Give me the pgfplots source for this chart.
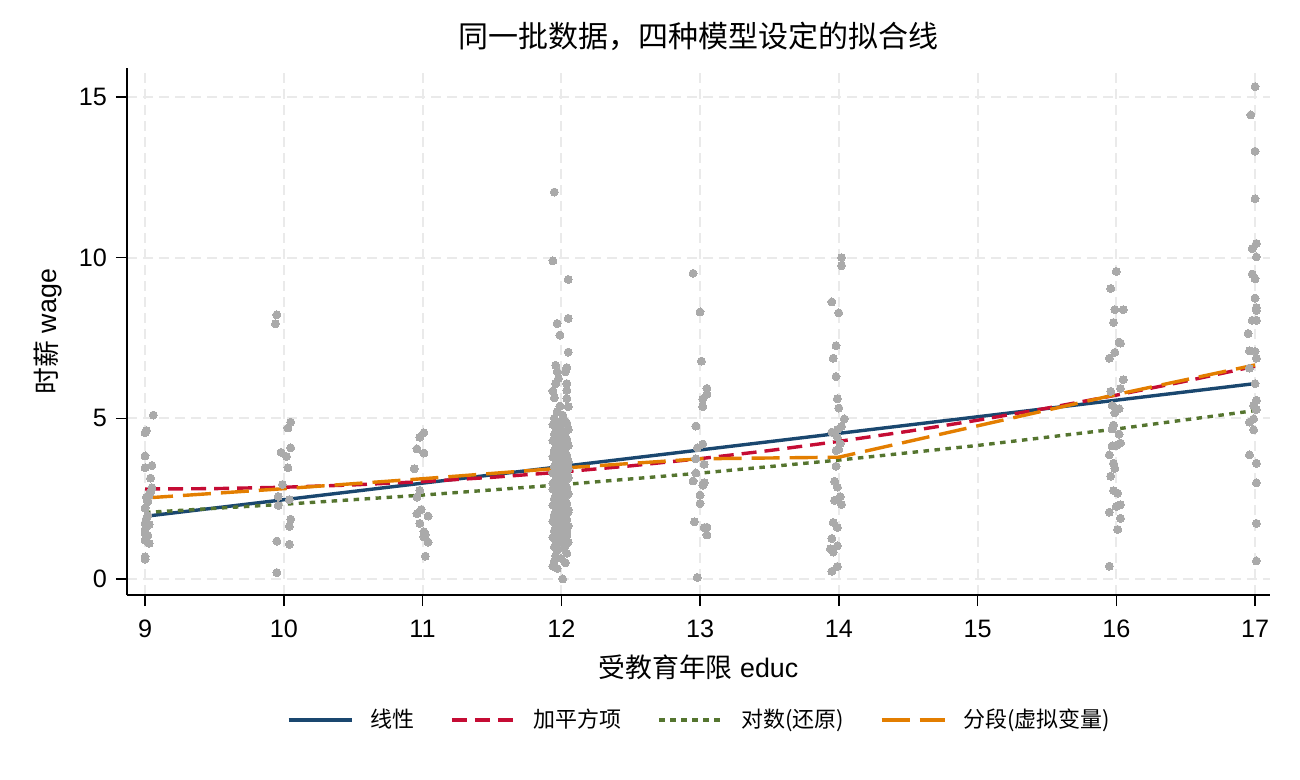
\documentclass[border=0pt]{standalone}
\usepackage{fontspec}
\setmainfont{Liberation Sans}
\newfontfamily\cjk{Noto Sans CJK SC}
\usepackage{pgfplots}
\pgfplotsset{compat=1.18}
\definecolor{snavy}{RGB}{26,71,111}
\definecolor{scran}{RGB}{197,12,52}
\definecolor{sgreen}{RGB}{85,117,47}
\definecolor{sorange}{RGB}{227,126,0}
\definecolor{dotgray}{RGB}{170,170,170}
\definecolor{gridgray}{RGB}{234,234,234}
\pgfplotstableread{
x y
9.06 5.10
9.01 4.62
9.00 4.55
9.00 3.83
9.00 3.46
9.05 3.53
9.04 3.14
9.05 2.84
9.04 2.71
9.01 2.55
9.03 2.60
9.02 2.40
9.00 2.21
9.02 1.98
9.01 1.88
9.00 1.73
9.03 1.70
9.00 1.54
9.00 1.42
9.02 1.36
9.00 1.21
9.03 1.11
9.00 0.69
9.00 0.62
10.05 4.88
10.03 4.70
9.98 3.94
10.02 3.81
10.05 4.08
10.03 3.46
9.99 2.94
9.96 2.57
10.04 2.47
9.96 2.29
10.05 1.86
10.04 1.64
9.95 1.18
10.04 1.08
9.95 0.20
9.95 8.22
9.94 7.94
11.01 4.55
10.98 4.41
10.96 4.05
11.01 3.92
10.94 3.43
10.98 2.76
10.96 2.55
10.99 2.16
10.96 2.03
11.04 1.96
10.98 1.73
11.01 1.47
11.02 1.39
11.01 1.31
11.04 1.15
11.02 0.71
11.95 12.04
11.94 9.90
12.05 9.32
12.05 8.11
11.97 7.95
11.99 7.59
12.05 7.06
11.96 6.65
12.04 6.58
11.97 6.45
12.03 6.45
11.98 6.24
11.96 6.08
12.04 6.08
12.04 5.87
11.94 5.85
11.95 5.64
12.04 5.62
12.05 5.36
11.99 5.38
11.97 5.21
12.01 5.10
11.95 5.00
12.02 4.95
11.97 4.90
12.04 4.85
11.94 4.80
12.00 4.75
11.96 4.70
12.05 4.65
11.98 4.60
12.03 4.55
11.95 4.50
12.02 4.45
11.97 4.40
12.04 4.35
11.94 4.30
12.00 4.25
11.96 4.20
12.05 4.15
11.98 4.10
12.03 4.05
11.95 4.00
12.02 3.95
11.97 3.90
12.04 3.85
11.94 3.80
12.00 3.75
11.96 3.70
12.05 3.65
11.98 3.60
12.03 3.55
11.95 3.50
12.02 3.45
11.97 3.40
12.04 3.35
11.94 3.30
12.00 3.25
11.96 3.20
12.05 3.15
11.98 3.10
12.03 3.05
11.95 3.00
12.02 2.95
11.97 2.90
12.04 2.85
11.94 2.80
12.00 2.75
11.96 2.70
12.05 2.65
11.98 2.60
12.03 2.55
11.95 2.50
12.02 2.45
11.97 2.40
12.04 2.35
11.94 2.30
12.00 2.25
11.96 2.20
12.05 2.15
11.98 2.10
12.03 2.05
11.95 2.00
12.02 1.95
11.97 1.90
12.04 1.85
11.94 1.80
12.00 1.75
11.96 1.70
12.05 1.65
11.98 1.60
12.03 1.55
11.95 1.50
12.02 1.45
11.97 1.40
12.04 1.35
11.94 1.30
12.00 1.25
11.96 1.20
12.05 1.15
11.98 1.10
12.03 1.05
11.95 1.00
12.02 0.95
11.97 0.90
12.01 4.48
11.96 4.33
12.04 4.18
11.99 4.03
11.95 3.88
12.03 3.73
11.98 3.58
12.05 3.43
11.97 3.28
12.01 3.13
11.94 2.98
12.04 2.83
11.99 2.68
11.96 2.53
12.03 2.38
11.98 2.23
12.05 2.08
11.95 1.93
12.01 1.78
11.97 1.63
12.04 1.48
11.99 1.33
11.96 1.18
12.04 0.80
11.96 0.72
12.00 0.64
11.95 0.56
12.03 0.50
11.94 0.40
11.97 0.33
12.01 0.00
12.95 9.51
13.00 8.31
13.01 6.78
13.05 5.93
13.05 5.75
13.02 5.60
13.02 5.36
12.97 4.76
13.02 4.20
12.98 4.08
12.97 3.74
13.03 3.57
12.97 3.30
12.95 3.05
13.03 3.00
13.02 2.92
13.00 2.61
13.00 2.35
12.96 1.78
13.03 1.60
13.05 1.61
13.05 1.37
12.98 0.05
14.02 10.00
14.02 9.75
13.95 8.62
14.00 8.28
13.98 7.26
13.96 6.87
13.98 6.30
13.99 5.61
14.00 5.32
14.04 4.98
14.02 4.75
13.99 4.65
13.95 4.57
13.99 4.41
14.01 4.21
13.98 4.00
14.00 4.03
13.98 3.51
13.97 3.04
13.99 2.86
14.01 2.56
13.97 2.45
14.02 2.32
13.96 1.76
13.99 1.60
13.95 1.26
13.99 1.03
13.94 0.94
13.96 0.84
13.99 0.39
13.95 0.24
16.00 9.57
15.96 9.04
15.99 8.38
16.05 8.38
15.98 7.98
16.02 7.37
16.03 7.34
15.99 7.05
15.95 6.87
16.05 6.20
16.03 5.93
15.96 5.84
15.97 5.40
16.00 5.30
15.99 5.17
16.02 5.30
15.98 4.79
15.97 4.67
16.02 4.51
16.03 4.23
15.97 4.14
16.00 4.16
15.95 3.86
15.98 3.60
15.99 3.44
15.96 3.20
15.98 2.75
16.01 2.67
16.03 2.31
16.00 2.26
15.95 2.08
16.03 1.89
16.01 1.54
15.95 0.40
17.00 15.32
16.97 14.44
17.00 13.31
17.00 11.83
17.01 10.44
16.98 10.28
17.01 10.02
16.98 9.49
17.00 9.34
17.00 8.74
17.01 8.44
17.01 8.36
16.98 8.05
17.01 8.05
16.95 7.64
16.96 7.10
17.00 7.08
17.01 6.87
16.96 6.56
17.00 6.08
17.01 5.56
16.99 5.40
17.01 5.27
16.99 4.98
16.96 4.88
16.99 4.64
16.96 3.86
17.01 3.60
17.01 2.99
17.01 1.73
17.01 0.56
}\scatterdata
\pgfplotstableread{
x y
9 1.95
17 6.08
}\linfit
\pgfplotstableread{
x y
9.0 2.800
9.5 2.812
10.0 2.855
10.5 2.927
11.0 3.030
11.5 3.163
12.0 3.327
12.5 3.520
13.0 3.744
13.5 3.997
14.0 4.282
14.5 4.596
15.0 4.940
15.5 5.315
16.0 5.720
16.5 6.155
17.0 6.620
}\quadfit
\pgfplotstableread{
x y
9 2.070
10 2.325
11 2.611
12 2.933
13 3.294
14 3.700
15 4.155
16 4.667
17 5.240
}\logfit
\pgfplotstableread{
x y
9 2.52
10 2.81
11 3.12
12 3.45
13 3.74
14 3.79
16 5.74
17 6.66
}\piecefit
\begin{document}
\begin{tikzpicture}
\useasboundingbox (-63.5bp,-92.5bp) rectangle (586.5bp,297.5bp);
\begin{axis}[
  scale only axis, width=571.5bp, height=263.5bp,
  xmin=8.870, xmax=17.108, ymin=-0.498, ymax=15.90,
  axis x line*=bottom, axis y line*=left,
  axis line style={black, line width=0.75bp, -},
  xtick={9,10,...,17}, ytick={0,5,10,15},
  tick align=outside, major tick length=5.5bp,
  tick style={black, line width=0.75bp},
  grid=major,
  major grid style={gridgray, line width=1bp, dash pattern=on 5bp off 3bp},
  /pgf/number format/assume math mode=true,
  tick label style={font=\fontsize{12.6bp}{15bp}\selectfont},
  xticklabel style={yshift=-3.5bp},
  yticklabel style={xshift=-1bp},
  label style={font=\fontsize{13.4bp}{16bp}\selectfont},
  xlabel={{\cjk 受教育年限} educ},
  ylabel={{\cjk 时薪} wage},
  xlabel style={at={(axis description cs:0.5,0)}, anchor=center, yshift=-36bp},
  ylabel style={at={([xshift=-39.5bp]axis description cs:0,0.5)}, anchor=center},
  title={\cjk 同一批数据，四种模型设定的拟合线},
  title style={at={(axis description cs:0.5,1)}, anchor=center, yshift=10bp, font=\fontsize{15bp}{18bp}\selectfont},
  legend columns=4,
  legend style={at={(axis description cs:0.5,0)}, anchor=center, yshift=-62.5bp,
    draw=none, fill=none, font=\fontsize{11bp}{13bp}\selectfont,
    nodes={inner sep=0pt},
    /tikz/every odd column/.append style={column sep=8.5bp},
    /tikz/every even column/.append style={column sep=18bp}},
  legend image code/.code={\draw[#1] (0bp,0bp) -- (31.5bp,0bp);},
]
\addplot[forget plot, only marks, mark=*, mark size=2bp, color=dotgray,
  mark options={fill=dotgray, draw=dotgray, line width=0pt}] table {\scatterdata};
\addplot[snavy, line width=1.7bp, solid] table {\linfit};
\addlegendentry{\cjk 线性}
\addplot[scran, line width=1.7bp, dash pattern=on 7.5bp off 4bp] table {\quadfit};
\addlegendentry{\cjk 加平方项}
\addplot[sgreen, line width=1.7bp, dash pattern=on 2.75bp off 2.75bp] table {\logfit};
\addlegendentry{\cjk 对数(还原)}
\addplot[sorange, line width=1.7bp, dash pattern=on 14bp off 5bp] table {\piecefit};
\addlegendentry{\cjk 分段(虚拟变量)}
\end{axis}
\end{tikzpicture}
\end{document}
